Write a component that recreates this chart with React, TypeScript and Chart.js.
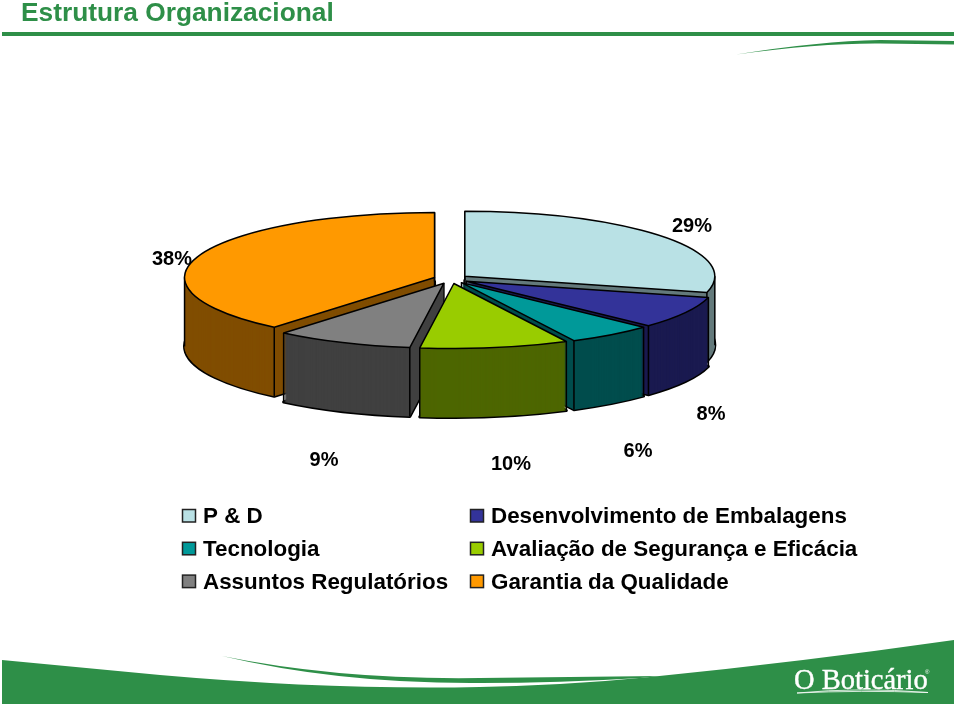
import React, { useEffect, useRef } from "react";
import { Chart, registerables } from "chart.js";

Chart.register(...registerables);

const categories = [
  "P & D",
  "Desenvolvimento de Embalagens",
  "Tecnologia",
  "Avaliação de Segurança e Eficácia",
  "Assuntos Regulatórios",
  "Garantia da Qualidade",
];
const values = [28.7, 7.9, 5.5, 9.5, 8.8, 38.49];
const topColors = ["#B9E1E5", "#333399", "#009999", "#99CC00", "#808080", "#FF9900"];
const wallColors = ["#647A7C", "#1A1A50", "#004D4D", "#4D6600", "#404040", "#804D00"];
const titleText = "Estrutura Organizacional";
const brandText = "O Boticário";

const GREEN = "#2E8F48";
const INK = "#000000";

// pie projection
const PIE_X = 451;
const PIE_Y = 279;
const RX = 250;
const RY = 65;
const DEPTH = 69;
const EXPLODE = 0.07;

// text anchors for the value labels, same order as the slices
const labelX = [692, 711, 638, 511, 324, 172];
const labelY = [226, 414, 451, 464, 460, 259];

const pie3d = {
  id: "pie3d",
  beforeDatasetsDraw(chart: any) {
    const ctx: CanvasRenderingContext2D = chart.ctx;
    const arcs: any[] = chart.getDatasetMeta(0).data;
    const order = arcs
      .map((el, i) => ({ el, i, mid: (el.startAngle + el.endAngle) / 2 }))
      .sort((a, b) => Math.sin(a.mid) - Math.sin(b.mid));

    const project = (el: any, mid: number, d: number) => {
      const R = el.outerRadius;
      ctx.translate(PIE_X, PIE_Y + d);
      ctx.scale(RX / R, RY / R);
      ctx.translate(-el.x + Math.cos(mid) * EXPLODE * R, -el.y + Math.sin(mid) * EXPLODE * R);
    };
    const sector = (el: any, mid: number, d: number) => {
      ctx.save();
      project(el, mid, d);
      ctx.beginPath();
      ctx.moveTo(el.x, el.y);
      ctx.arc(el.x, el.y, el.outerRadius, el.startAngle, el.endAngle);
      ctx.closePath();
      ctx.restore();
    };
    const fill = (el: any, mid: number, d: number, color: string) => {
      const saved = el.options;
      const o = Object.create(saved);
      o.backgroundColor = color;
      o.borderWidth = 0;
      el.options = o;
      ctx.save();
      project(el, mid, d);
      el.draw(ctx);
      ctx.restore();
      el.options = saved;
    };
    const edge = (el: any, mid: number, angle: number | null) => {
      const r = angle === null ? 0 : el.outerRadius;
      const a = angle === null ? 0 : angle;
      const k = RX / el.outerRadius;
      const m = RY / el.outerRadius;
      const px = PIE_X + (Math.cos(mid) * EXPLODE * el.outerRadius + r * Math.cos(a)) * k;
      const py = PIE_Y + (Math.sin(mid) * EXPLODE * el.outerRadius + r * Math.sin(a)) * m;
      ctx.beginPath();
      ctx.moveTo(px, py);
      ctx.lineTo(px, py + DEPTH);
      ctx.stroke();
    };

    ctx.save();
    ctx.strokeStyle = INK;
    ctx.lineJoin = "round";
    for (const { el, i, mid } of order) {
      sector(el, mid, DEPTH);
      ctx.lineWidth = 3;
      ctx.stroke();
      for (let d = DEPTH; d > 0; d -= 1) fill(el, mid, d, wallColors[i]);
      ctx.lineWidth = 1.5;
      const facesFront = el.startAngle < Math.PI / 2 && Math.PI / 2 < el.endAngle;
      if (!facesFront) edge(el, mid, null);
      edge(el, mid, el.startAngle);
      edge(el, mid, el.endAngle);
      for (const a of [0, Math.PI]) {
        if (el.startAngle < a && a < el.endAngle) edge(el, mid, a);
      }
      fill(el, mid, 0, topColors[i]);
      sector(el, mid, 0);
      ctx.lineWidth = 1.5;
      ctx.stroke();
    }
    ctx.restore();
    return false;
  },
};

const decorations = {
  id: "decorations",
  beforeDraw(chart: any) {
    const ctx: CanvasRenderingContext2D = chart.ctx;
    ctx.save();
    ctx.fillStyle = "#FFFFFF";
    ctx.fillRect(0, 0, 960, 706);
    ctx.fillStyle = GREEN;
    ctx.fillRect(2, 32, 952, 4);

    ctx.beginPath();
    ctx.moveTo(736, 54.5);
    ctx.quadraticCurveTo(820, 41, 880, 40);
    ctx.lineTo(954, 41);
    ctx.lineTo(954, 44.5);
    ctx.lineTo(880, 43.5);
    ctx.quadraticCurveTo(820, 43, 736, 54.5);
    ctx.closePath();
    ctx.fill();

    ctx.beginPath();
    ctx.moveTo(2, 660);
    ctx.lineTo(160, 675);
    ctx.quadraticCurveTo(330, 690, 480, 687);
    ctx.quadraticCurveTo(570, 685, 650, 677);
    ctx.quadraticCurveTo(800, 662, 954, 640);
    ctx.lineTo(954, 704);
    ctx.lineTo(2, 704);
    ctx.closePath();
    ctx.fill();

    ctx.beginPath();
    ctx.moveTo(222, 656);
    ctx.quadraticCurveTo(340, 680, 480, 678);
    ctx.lineTo(660, 676);
    ctx.lineTo(640, 678);
    ctx.quadraticCurveTo(560, 683, 480, 683);
    ctx.quadraticCurveTo(340, 684, 222, 656);
    ctx.closePath();
    ctx.fill();

    ctx.fillStyle = "#FFFFFF";
    ctx.strokeStyle = "#FFFFFF";
    ctx.font = "28.5px 'Liberation Serif'";
    ctx.textBaseline = "alphabetic";
    ctx.textAlign = "left";
    ctx.lineWidth = 0.4;
    ctx.fillText(brandText, 794, 689);
    ctx.strokeText(brandText, 794, 689);
    ctx.font = "6px 'Liberation Sans'";
    ctx.fillText("®", 925, 674);
    ctx.beginPath();
    ctx.moveTo(797, 693);
    ctx.quadraticCurveTo(860, 687, 928, 692.5);
    ctx.quadraticCurveTo(860, 690, 797, 693);
    ctx.closePath();
    ctx.lineWidth = 0.8;
    ctx.stroke();
    ctx.restore();
  },
};

const annotations = {
  id: "annotations",
  afterDraw(chart: any) {
    const ctx: CanvasRenderingContext2D = chart.ctx;
    ctx.save();
    ctx.fillStyle = INK;
    ctx.textBaseline = "middle";

    ctx.font = "bold 20px 'Liberation Sans'";
    ctx.textAlign = "center";
    values.forEach((v, i) => {
      ctx.fillText(`${Math.round(v)}%`, labelX[i], labelY[i]);
    });

    ctx.textAlign = "left";
    ctx.font = "bold 22.4px 'Liberation Sans'";
    categories.forEach((name, i) => {
      const col = i % 2;
      const row = Math.floor(i / 2);
      const bx = col === 0 ? 182.5 : 470.5;
      const by = 509.5 + row * 32.8;
      ctx.fillStyle = topColors[i];
      ctx.fillRect(bx, by, 13, 12.5);
      ctx.strokeStyle = "#222222";
      ctx.lineWidth = 1.5;
      ctx.strokeRect(bx, by, 13, 12.5);
      ctx.fillStyle = INK;
      ctx.fillText(name, col === 0 ? 203 : 491, by + 7.5);
    });
    ctx.restore();
  },
};

export default function App() {
  const ref = useRef<HTMLCanvasElement>(null);
  useEffect(() => {
    const chart = new Chart(ref.current as HTMLCanvasElement, {
      type: "pie",
      data: {
        labels: categories,
        datasets: [{ data: values, backgroundColor: topColors, borderWidth: 0 }],
      },
      options: {
        responsive: false,
        animation: false,
        layout: { padding: { left: 21, top: 0 } },
        plugins: {
          legend: { display: false },
          tooltip: { enabled: false },
          title: {
            display: true,
            text: titleText,
            align: "start",
            color: GREEN,
            font: { family: "'Liberation Sans'", size: 26.3, weight: "bold", lineHeight: 1.05 },
            padding: { top: 0, bottom: 10 },
          },
        },
      },
      plugins: [decorations, pie3d, annotations],
    } as any);
    return () => chart.destroy();
  }, []);
  return (
    <div style={{ position: "absolute", left: 0, top: 0, width: 960, height: 706 }}>
      <canvas ref={ref} width={960} height={706} style={{ display: "block" }} />
    </div>
  );
}
